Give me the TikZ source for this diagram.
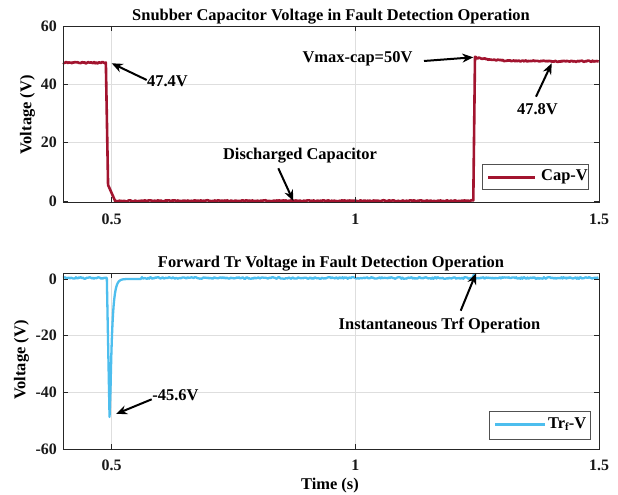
\documentclass[tikz,border=0pt]{standalone}
\usepackage{fontspec}
\setmainfont{Liberation Serif}
\usetikzlibrary{arrows.meta}
\definecolor{capred}{HTML}{A2142F}
\definecolor{trblue}{HTML}{4DBEEE}
\definecolor{gridgray}{HTML}{DEDEDE}
\definecolor{axgray}{HTML}{262626}
\begin{document}
\begin{tikzpicture}[x=1bp,y=1bp,
  txt/.style={font=\fontsize{16.5}{19}\selectfont\bfseries, inner sep=0pt, text=black},
  ticklbl/.style={font=\fontsize{16}{19}\selectfont\bfseries, inner sep=0pt, text=black!90},
  annarrow/.style={-{Stealth[length=11bp,width=9bp]}, line width=2bp, black},
  axbox/.style={draw=axgray, line width=0.8bp},
  gridl/.style={draw=gridgray, line width=0.6bp},
  capv/.style={draw=capred, line width=2.6bp, line join=round},
  trv/.style={draw=trblue, line width=2.3bp, line join=round},
  legbox/.style={draw=axgray!80, line width=0.8bp, fill=white}
]
\useasboundingbox (0,0) rectangle (618,495);
\fill[white] (0,0) rectangle (618,495);
\pgfmathsetseed{7}

% ---------------- top axes ----------------
\begin{scope}[shift={(-131.908bp,294bp)}, x=487.27bp, y=2.917bp]
  \foreach \t in {0.5,1} \draw[gridl] (\t,-0.4) -- (\t,60);
  \foreach \v in {20,40} \draw[gridl] (0.4,\v) -- (1.5,\v);
  \draw[capv] plot[domain=0.4:0.488, samples=45] (\x,{47.4+0.22*rand})
     -- (0.4925,5.5) -- (0.507,0)
     -- plot[domain=0.507:1.2435, samples=320] (\x,{0.05+0.2*rand})
     -- (1.2455,49.4)
     -- plot[domain=1.247:1.5, samples=120] (\x,{47.9+1.3*exp(-(\x-1.246)/0.04)+0.22*rand});
  \draw[axbox] (0.4,-0.4) rectangle (1.5,60);
  \foreach \v in {0,20,40,60} {
    \draw[axbox] (0.4,\v) -- ++(5bp,0);
    \draw[axbox] (1.5,\v) -- ++(-5bp,0);
    \node[ticklbl, anchor=east, xshift=-6bp] (tyt\v) at (0.4,\v) {\v};
  }
  \foreach \t in {0.5,1,1.5} {
    \draw[axbox] (\t,-0.4) -- ++(0,5bp);
    \draw[axbox] (\t,60) -- ++(0,-5bp);
  }
\end{scope}
\node[ticklbl, anchor=base] (txa) at (111.7,270) {0.5};
\node[ticklbl, anchor=base] (txb) at (355.3,270) {1};
\node[ticklbl, anchor=base] (txc) at (599,270) {1.5};
\node[txt] (title1) at (331,478) {Snubber Capacitor Voltage in Fault Detection Operation};
\node[txt, rotate=90] (ylab1) at (27.5,380) {Voltage (V)};

% legend top
\draw[legbox] (482,306) rectangle (588,331);
\coordinate (lg1a) at (488,317.5);
\coordinate (lg1b) at (535,317.5);
\draw[capv, line width=3bp] (lg1a) -- (lg1b);
\node[txt, anchor=west] (leg1) at (541,318) {Cap-V};

% annotations top
\node[txt] (n474) at (167.5,413.5) {47.4V};
\coordinate (a1t) at (146.7,415);
\coordinate (a1h) at (111.7,431.7);
\draw[annarrow] (a1t) -- (a1h);

\node[txt] (nvmax) at (357.5,436) {Vmax-cap=50V};
\coordinate (a2t) at (424,434);
\coordinate (a2h) at (473.3,437.7);
\draw[annarrow] (a2t) -- (a2h);

\node[txt] (n478) at (537.5,386) {47.8V};
\coordinate (a3t) at (536,398.3);
\coordinate (a3h) at (551.7,431.7);
\draw[annarrow] (a3t) -- (a3h);

\node[txt] (ndis) at (300,339) {Discharged Capacitor};
\coordinate (a4t) at (278.3,326.7);
\coordinate (a4h) at (293.3,294);
\draw[annarrow] (a4t) -- (a4h);

% ---------------- bottom axes ----------------
\begin{scope}[shift={(-131.908bp,216bp)}, x=487.27bp, y=2.839bp]
  \foreach \t in {0.5,1} \draw[gridl] (\t,-60) -- (\t,2.1);
  \foreach \v in {-20,-40} \draw[gridl] (0.4,\v) -- (1.5,\v);
  \draw[trv] plot[domain=0.4:0.49, samples=45] (\x,{0.35+0.3*rand})
     -- (0.4955,-48.6)
     -- plot[domain=0.4975:0.56, samples=70] (\x,{-48.6*exp(-(\x-0.4965)/0.0045)})
     -- plot[domain=0.562:1.2415, samples=320] (\x,{0.35+0.3*rand})
     -- (1.2435,1.7) -- (1.2455,0.4)
     -- plot[domain=1.248:1.5, samples=120] (\x,{0.35+0.3*rand});
  \draw[axbox] (0.4,-60) rectangle (1.5,2.1);
  \foreach \v/\n in {0/a,-20/b,-40/c,-60/d} {
    \draw[axbox] (0.4,\v) -- ++(5bp,0);
    \draw[axbox] (1.5,\v) -- ++(-5bp,0);
    \node[ticklbl, anchor=east, xshift=-6bp] (tyb\n) at (0.4,\v) {\v};
  }
  \foreach \t in {0.5,1,1.5} {
    \draw[axbox] (\t,-60) -- ++(0,5bp);
    \draw[axbox] (\t,2.1) -- ++(0,-5bp);
  }
\end{scope}
\node[ticklbl, anchor=base] (bxa) at (111.7,24.5) {0.5};
\node[ticklbl, anchor=base] (bxb) at (355.3,24.5) {1};
\node[ticklbl, anchor=base] (bxc) at (599,24.5) {1.5};
\node[txt] (title2) at (331,231) {Forward Tr Voltage in Fault Detection Operation};
\node[txt, rotate=90] (ylab2) at (21.5,135) {Voltage (V)};
\node[txt] (xlab) at (330,9) {Time (s)};

% legend bottom
\draw[legbox] (489,56) rectangle (590,84);
\coordinate (lg2a) at (495,70);
\coordinate (lg2b) at (545,70);
\draw[trv, line width=3bp] (lg2a) -- (lg2b);
\node[txt, anchor=west] (leg2) at (548,71) {Tr\raisebox{-0.35ex}{\fontsize{11}{12}\selectfont f}-V};

% annotations bottom
\node[txt] (n456) at (175.5,100) {-45.6V};
\coordinate (a5t) at (151.7,95.7);
\coordinate (a5h) at (116,81);
\draw[annarrow] (a5t) -- (a5h);

\node[txt] (ninst) at (439.5,170) {Instantaneous Trf Operation};
\coordinate (a6t) at (460.7,184.3);
\coordinate (a6h) at (476,221.7);
\draw[annarrow] (a6t) -- (a6h);
\end{tikzpicture}
\end{document}
